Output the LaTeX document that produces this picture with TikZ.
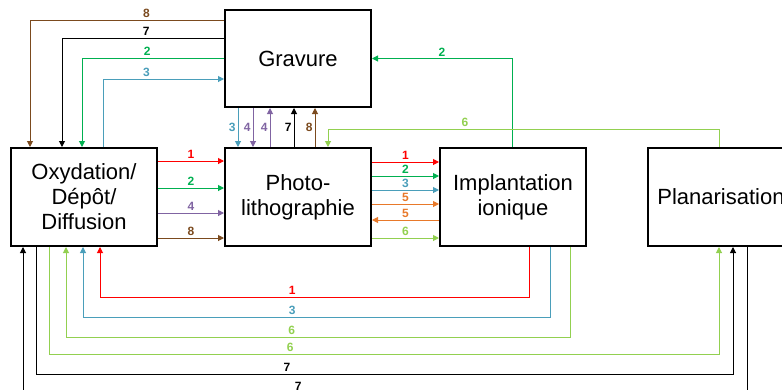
\documentclass[tikz,border=0pt]{standalone}
\usepackage{fontspec}
\setmainfont{Liberation Sans}
\usepackage{tikz}
\usetikzlibrary{arrows.meta,positioning,calc}
\definecolor{fabred}{HTML}{FF0000}
\definecolor{fabgreen}{HTML}{00B050}
\definecolor{fabblue}{HTML}{4A9EBA}
\definecolor{fabpurple}{HTML}{8064A2}
\definecolor{fabbrown}{HTML}{7B4A1E}
\definecolor{fablime}{HTML}{92D050}
\definecolor{fabor}{HTML}{E8792A}
\tikzset{
  proc/.style={draw=black, line width=2pt, minimum width=146pt, minimum height=98pt, align=center, font=\fontsize{22}{25}\selectfont, inner sep=2pt},
  arr/.style={-{Triangle[length=6pt,width=6pt]}, line width=1pt},
  lbl/.style={font=\fontsize{12}{14}\selectfont\bfseries, inner sep=2pt},
}
\begin{document}
\begin{tikzpicture}[x=1pt, y=-1pt]
    \useasboundingbox (0,0) rectangle (782,389);
    \node[proc] (oxy) at (84,197) {Oxydation/\\Dépôt/\\Diffusion};
    \node[proc, minimum height=97pt] (grav) at (298,58.5) {Gravure};
    \node[proc] (photo) at (298,197) {Photo-\\lithographie};
    \node[proc] (impl) at (513,197) {Implantation\\ionique};
    \node[proc] (plan) at (721,197) {Planarisation};
    % retours vers l'oxydation par le haut
    \draw[arr, fabbrown] ([yshift=-11pt]grav.north west) -| node[lbl, above, pos=0.2]{8} ([xshift=20pt]oxy.north west);
    \draw[arr, black] ([yshift=-29pt]grav.north west) -| node[lbl, above, pos=0.24]{7} ([xshift=52pt]oxy.north west);
    \draw[arr, fabgreen] ([yshift=-49pt]grav.north west) -| node[lbl, above, pos=0.27]{2} ([xshift=72pt]oxy.north west);
    \draw[arr, fabblue] ([xshift=93pt]oxy.north west) |- node[lbl, above, pos=0.68]{3} ([yshift=-70pt]grav.north west);
    % gravure <-> photo
    \foreach \dx/\c/\t in {14/fabblue/3, 29/fabpurple/4}
      \draw[arr, \c] ([xshift=\dx pt]grav.south west) -- node[lbl, left]{\t} ([xshift=\dx pt]photo.north west);
    \foreach \dx/\c/\t in {46/fabpurple/4, 70/black/7, 91/fabbrown/8}
      \draw[arr, \c] ([xshift=\dx pt]photo.north west) -- node[lbl, left]{\t} ([xshift=\dx pt]grav.south west);
    % oxydation -> photo -> implantation
    \foreach \dy/\c/\t in {14/fabred/1, 41/fabgreen/2, 66/fabpurple/4, 91/fabbrown/8}
      \draw[arr, \c] ([yshift=-\dy pt]oxy.north east) -- node[lbl, above]{\t} ([yshift=-\dy pt]photo.north west);
    \foreach \dy/\c/\t in {15/fabred/1, 29/fabgreen/2, 43/fabblue/3, 57/fabor/5, 91/fablime/6}
      \draw[arr, \c] ([yshift=-\dy pt]photo.north east) -- node[lbl, above]{\t} ([yshift=-\dy pt]impl.north west);
    \draw[arr, fabor] ([yshift=-73pt]impl.north west) -- node[lbl, above]{5} ([yshift=-73pt]photo.north east);
    \draw[arr, fabgreen] ([xshift=73pt]impl.north west) |- node[lbl, above, pos=0.75]{2} (grav.east);
    \draw[arr, fablime] ([xshift=72pt]plan.north west) -- ++(0,-18) -| node[lbl, above, pos=0.325]{6} ([xshift=104pt]photo.north west);
    % boucles du bas
    \foreach \a/\d/\b/\c/\t in {90/50/90/fabred/1, 111/70/73/fabblue/3, 131/90/56/fablime/6}
      \draw[arr, \c] ([xshift=\a pt]impl.south west) -- ++(0,\d) -| node[lbl, above, pos=0.276]{\t} ([xshift=\b pt]oxy.south west);
    \draw[arr, fablime] ([xshift=39pt]oxy.south west) -- ++(0,107) -| node[lbl, above, pos=0.18]{6} ([xshift=72pt]plan.south west);
    \draw[arr, black] ([xshift=26pt]oxy.south west) -- ++(0,127) -| node[lbl, above, pos=0.18]{7} ([xshift=86pt]plan.south west);
    \draw[arr, black] ([xshift=100pt]plan.south west) -- ++(0,146) -| node[lbl, above, pos=0.31]{7} ([xshift=13pt]oxy.south west);
\end{tikzpicture}
\end{document}
